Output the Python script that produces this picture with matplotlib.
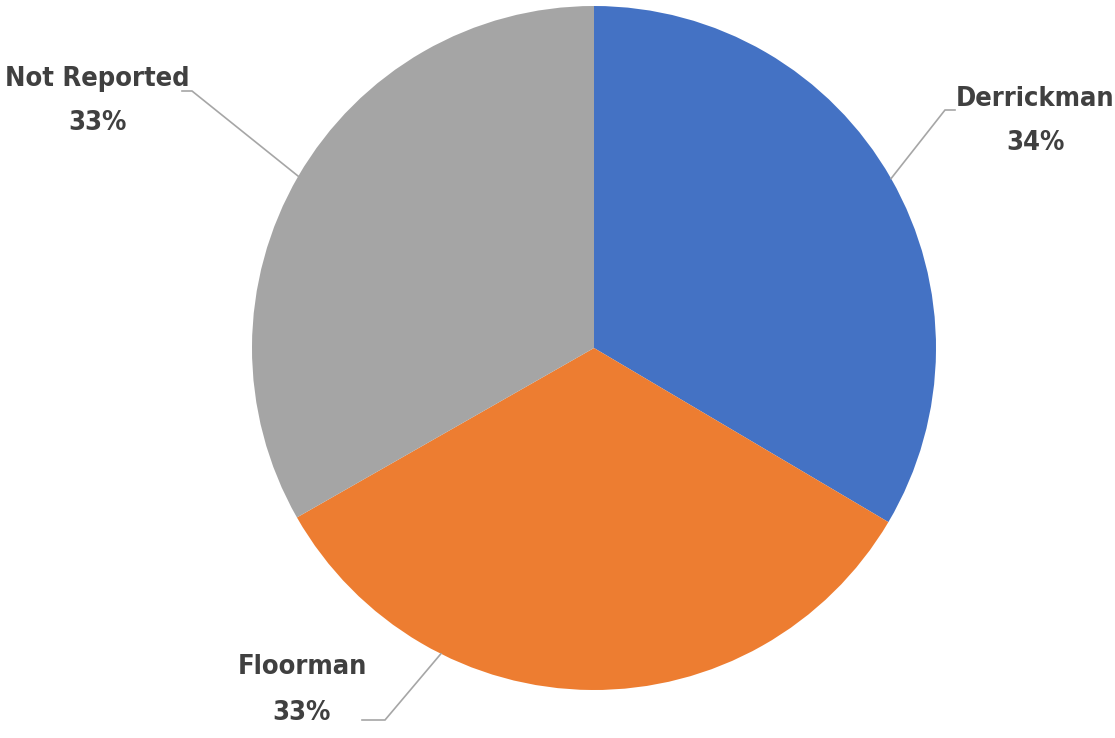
import numpy as np
import matplotlib
matplotlib.use("Agg")
from matplotlib import pyplot as plt

# data
categories = ["Derrickman", "Floorman", "Not Reported"]
shares = [33.5, 33.25, 33.25]
colors = ["#4472C4", "#ED7D31", "#A5A5A5"]

W, H = 1115, 738
CX, CY, R = 594, 348, 342   # pie centre / radius in pixels (top-down y)

# label layout: text centre, elbow point, end of horizontal stub, angle on rim
layout = {
    "Derrickman": dict(text=(1035, 121), elbow=(945, 110), stub=(955, 110), ang=None),
    "Floorman": dict(text=(302, 690), elbow=(385, 720), stub=(362, 720), ang=243.4),
    "Not Reported": dict(text=(97, 101), elbow=(192, 91), stub=(182, 91), ang=None),
}


def fy(y):
    return H - y


plt.rcParams['font.family'] = ['DejaVu Sans']
fig = plt.figure(figsize=(W / 100, H / 100), dpi=100)
ax = fig.add_axes([0, 0, 1, 1])

wedges, _ = ax.pie(shares, colors=colors, startangle=90, counterclock=False,
                   center=(CX, fy(CY)), radius=R,
                   wedgeprops=dict(linewidth=0))
ax.set_xlim(0, W)
ax.set_ylim(0, H)
ax.set_aspect("equal")
ax.axis("off")

total = sum(shares)
for w, name, val in zip(wedges, categories, shares):
    lay = layout[name]
    ang = lay["ang"] if lay["ang"] is not None else (w.theta1 + w.theta2) / 2
    px = CX + R * np.cos(np.radians(ang))
    py = CY - R * np.sin(np.radians(ang))
    ex, ey = lay["elbow"]
    sx, sy = lay["stub"]
    ax.plot([px, ex, sx], [fy(py), fy(ey), fy(sy)], color="#A6A6A6", lw=1.2,
            solid_joinstyle="miter")
    pct = f"{round(val / total * 100)}%"
    tx, ty = lay["text"]
    ax.text(tx, fy(ty), f"{name}\n{pct}", ha="center", va="center",
            fontsize=19.5, fontweight="bold", fontstretch="condensed",
            color="#404040", linespacing=1.95, multialignment="center")

plt.savefig("out.png", dpi=100)
